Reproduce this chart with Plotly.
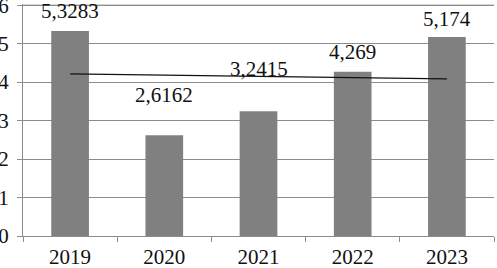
import plotly.graph_objects as go

years = ["2019", "2020", "2021", "2022", "2023"]
values = [5.3283, 2.6162, 3.2415, 4.269, 5.174]
value_labels = ["5,3283", "2,6162", "3,2415", "4,269", "5,174"]
trend_years = ["2019", "2023"]
trend_values = [4.215, 4.084]
y_ticks = [0, 1, 2, 3, 4, 5, 6]

# label offsets above bar tops (pixels) - layout only
label_shift = [20, 40, 42, 20, 18]

FONT = "Liberation Serif, Times New Roman, serif"

fig = go.Figure()
fig.add_trace(go.Bar(x=years, y=values, marker=dict(color="#808080", line=dict(width=0)),
                     width=0.4, showlegend=False, hoverinfo="skip"))
fig.add_trace(go.Scatter(x=trend_years, y=trend_values, mode="lines",
                         line=dict(color="#111111", width=1.2), showlegend=False,
                         hoverinfo="skip"))

for i, (v, lab, sh) in enumerate(zip(values, value_labels, label_shift)):
    fig.add_annotation(x=i, y=v, text=lab, showarrow=False, yshift=sh,
                       yanchor="middle", xanchor="center",
                       font=dict(family=FONT, size=21, color="#111111"))

# top gridline (hidden by plotly at the range edge)
fig.add_shape(type="line", xref="paper", x0=0, x1=1, yref="y",
              y0=y_ticks[-1], y1=y_ticks[-1], line=dict(color="#8c8c8c", width=1),
              layer="below")

fig.update_layout(
    width=497, height=268,
    margin=dict(l=23, r=3, t=4, b=32),
    paper_bgcolor="white", plot_bgcolor="white",
    font=dict(family=FONT, size=21, color="#111111"),
)
fig.update_xaxes(type="category", categoryorder="array", categoryarray=years,
                 range=[-0.5, len(years) - 0.5], showline=True, linecolor="#8c8c8c", linewidth=1,
                 tickson="boundaries", ticks="outside", ticklen=5, tickcolor="#8c8c8c",
                 showgrid=False, tickfont=dict(size=21), automargin=False,
                 ticklabelstandoff=2)
fig.update_yaxes(range=[0, 6.03], tickvals=y_ticks, showline=True, linecolor="#8c8c8c",
                 linewidth=1, showgrid=True, gridcolor="#8c8c8c", gridwidth=1,
                 ticks="outside", ticklen=5, tickcolor="#8c8c8c",
                 tickfont=dict(size=21), zeroline=False, automargin=False,
                 ticklabelstandoff=4, ticklabeloverflow="allow")

fig.write_html("out.html", config={"displayModeBar": False},
               post_script="document.body.style.margin='0';document.body.style.overflow='hidden';")
